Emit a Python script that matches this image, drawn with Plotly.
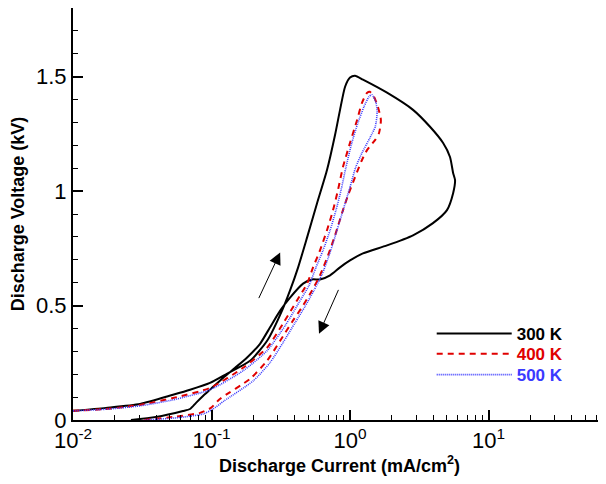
import numpy as np
import plotly.graph_objects as go

# ---- data ----
x300 = [0.0100, 0.0173, 0.0305, 0.0527, 0.070, 0.0975, 0.129, 0.190, 0.252, 0.323,
        0.369, 0.422, 0.490, 0.578, 0.682, 0.780, 0.847, 0.921, 1.00, 1.087,
        1.24, 1.85, 2.85, 3.78, 4.69, 5.27, 5.55, 5.73, 5.55, 5.01,
        3.97, 2.85, 1.85, 1.24, 1.00, 0.847, 0.718, 0.607, 0.532, 0.458,
        0.369, 0.313, 0.264, 0.224, 0.180, 0.148, 0.121, 0.099, 0.0868, 0.0773,
        0.070, 0.0622, 0.0397, 0.0262]
y300 = [0.040, 0.053, 0.070, 0.110, 0.132, 0.162, 0.202, 0.259, 0.346, 0.478,
        0.566, 0.667, 0.798, 0.947, 1.092, 1.246, 1.355, 1.456, 1.496, 1.504,
        1.487, 1.430, 1.355, 1.281, 1.211, 1.149, 1.079, 1.048, 0.991, 0.917,
        0.860, 0.807, 0.763, 0.728, 0.697, 0.667, 0.632, 0.614, 0.614, 0.596,
        0.535, 0.478, 0.404, 0.333, 0.272, 0.228, 0.184, 0.136, 0.105, 0.075,
        0.048, 0.039, 0.013, 0.0]

x400 = [0.0100, 0.0173, 0.0305, 0.0527, 0.0975, 0.169, 0.252, 0.328, 0.414, 0.490,
        0.541, 0.607, 0.682, 0.754, 0.818, 0.889, 1.00, 1.125, 1.22, 1.33,
        1.39, 1.49, 1.59, 1.67, 1.62, 1.52, 1.33, 1.22, 1.087, 0.968,
        0.875, 0.780, 0.694, 0.607, 0.532, 0.458, 0.387, 0.313, 0.252, 0.190,
        0.115, 0.099, 0.0826, 0.0527, 0.032]
y400 = [0.040, 0.048, 0.066, 0.096, 0.140, 0.228, 0.316, 0.421, 0.522, 0.596,
        0.667, 0.741, 0.829, 0.917, 1.004, 1.105, 1.211, 1.311, 1.386, 1.430,
        1.434, 1.412, 1.368, 1.311, 1.254, 1.224, 1.180, 1.136, 1.061, 0.982,
        0.904, 0.807, 0.719, 0.632, 0.566, 0.500, 0.434, 0.346, 0.259, 0.180,
        0.092, 0.053, 0.031, 0.013, 0.0]

x500 = [0.0100, 0.0173, 0.0305, 0.0527, 0.0975, 0.169, 0.252, 0.340, 0.428, 0.506,
        0.568, 0.638, 0.718, 0.792, 0.861, 0.935, 1.03, 1.14, 1.26, 1.37,
        1.44, 1.54, 1.57, 1.52, 1.39, 1.22, 1.10, 1.00, 0.905, 0.805,
        0.718, 0.628, 0.549, 0.473, 0.401, 0.328, 0.264, 0.200, 0.123, 0.1026,
        0.0868, 0.0545, 0.033]
y500 = [0.040, 0.047, 0.062, 0.088, 0.132, 0.215, 0.303, 0.412, 0.513, 0.588,
        0.667, 0.741, 0.829, 0.917, 1.004, 1.105, 1.211, 1.298, 1.368, 1.412,
        1.421, 1.386, 1.342, 1.281, 1.232, 1.167, 1.105, 1.018, 0.930, 0.829,
        0.732, 0.636, 0.566, 0.496, 0.425, 0.338, 0.250, 0.171, 0.083, 0.048,
        0.026, 0.009, 0.0]

series_names = ["300 K", "400 K", "500 K"]
series_colors = ["#000000", "#e00000", "#3a3aff"]

# arrows: (tail_x, tail_y, head_x, head_y)
arrows = [(0.217, 0.526, 0.313, 0.732),
          (0.834, 0.575, 0.597, 0.377)]

x_ticks = [0.01, 0.1, 1, 10]
x_ticktext = ["10<sup>-2</sup>", "10<sup>-1</sup>", "10<sup>0</sup>", "10<sup>1</sup>"]
y_ticks = [0, 0.5, 1, 1.5]
y_ticktext = ["0", "0.5", "1", "1.5"]

FONT = "Liberation Sans, Arial, sans-serif"

fig = go.Figure()
styles = [dict(width=2, dash="solid"),
          dict(width=2, dash="6px,5px"),
          dict(width=1.6, dash="1px,1px")]
legend_ids = ["legend", "legend2", "legend3"]
legend_y = [0.209, 0.160, 0.109]
for xs, ys, nm, col, st, lid in zip([x300, x400, x500], [y300, y400, y500],
                                    series_names, series_colors, styles, legend_ids):
    fig.add_trace(go.Scatter(
        x=xs, y=ys, mode="lines", legend=lid,
        name='<span style="color:%s">%s</span>' % (col, nm),
        line=dict(color=col, width=st["width"], dash=st["dash"],
                  shape="spline", smoothing=0.6),
    ))

for tx, ty, hx, hy in arrows:
    fig.add_annotation(
        x=np.log10(hx), y=hy, ax=np.log10(tx), ay=ty,
        xref="x", yref="y", axref="x", ayref="y",
        showarrow=True, arrowhead=2, arrowsize=2.4, arrowwidth=1,
        arrowcolor="#000000", text="",
    )

legend_common = dict(x=0.673, xanchor="left", yanchor="middle",
                     bgcolor="rgba(0,0,0,0)", itemwidth=75,
                     font=dict(size=17, weight="bold", family=FONT))
layout_legends = {lid: dict(legend_common, y=ly) for lid, ly in zip(legend_ids, legend_y)}

# the page body adds an 8px offset, so the figure is 8px smaller than the window
fig.update_layout(
    width=598, height=476,
    margin=dict(l=65, r=0, t=0, b=64, autoexpand=False),
    paper_bgcolor="white", plot_bgcolor="white",
    font=dict(family=FONT, color="black"),
    showlegend=True,
    **layout_legends,
)
fig.update_xaxes(
    type="log", range=[-2, 1.848], automargin=False,
    tickvals=x_ticks, ticktext=x_ticktext,
    tickfont=dict(size=22, family=FONT),
    ticks="inside", ticklen=10, tickwidth=1.5, tickcolor="black",
    minor=dict(ticks="inside", ticklen=5, tickwidth=1, tickcolor="black",
               dtick="D1", showgrid=False),
    showline=True, linecolor="black", linewidth=2, mirror=True,
    showgrid=False, zeroline=False,
    title=dict(text="Discharge Current (mA/cm<sup>2</sup>)",
               font=dict(size=18, weight="bold", family=FONT), standoff=2),
)
fig.update_yaxes(
    range=[0, 1.8], automargin=False,
    tickvals=y_ticks, ticktext=y_ticktext,
    tickfont=dict(size=22, family=FONT),
    ticks="inside", ticklen=10, tickwidth=1.5, tickcolor="black",
    minor=dict(ticks="inside", ticklen=5, tickwidth=1, tickcolor="black",
               dtick=0.1, showgrid=False),
    showline=True, linecolor="black", linewidth=2, mirror=False,
    showgrid=False, zeroline=False,
    title=dict(text="Discharge Voltage (kV)",
               font=dict(size=18, weight="bold", family=FONT), standoff=8),
)

fig.write_html("out.html")
